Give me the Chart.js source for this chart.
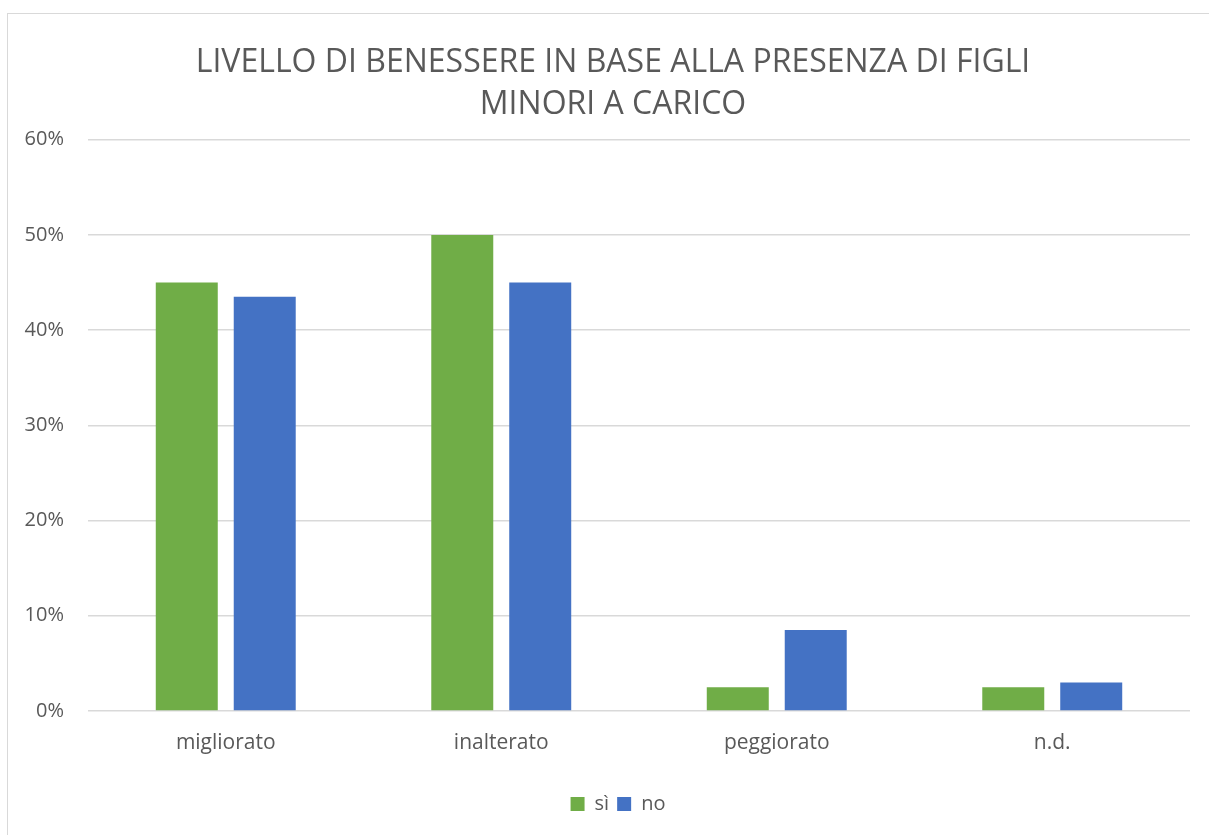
<!DOCTYPE html>
<html>
<head>
<meta charset="utf-8">
<script src="https://cdn.jsdelivr.net/npm/chart.js@4/dist/chart.umd.min.js"></script>
<style>
html,body{margin:0;padding:0;background:#fff;width:1209px;height:835px;overflow:hidden;}
#frame{position:absolute;left:7px;top:13px;width:1300px;height:900px;border:1.5px solid #d9d9d9;box-sizing:border-box;}
#wrap{position:absolute;left:0;top:0;width:1209px;height:835px;}
</style>
</head>
<body>
<div id="frame"></div>
<div id="wrap"><canvas id="c" width="1209" height="835"></canvas></div>
<script>
const titleLines = ["LIVELLO DI BENESSERE IN BASE ALLA PRESENZA DI FIGLI", "MINORI A CARICO"];
const categories = ["migliorato", "inalterato", "peggiorato", "n.d."];
const seriesNames = ["sì", "no"];
const siValues = [45, 50, 2.5, 2.5];
const noValues = [43.5, 45, 8.5, 3];
const yTicks = [0, 10, 20, 30, 40, 50, 60];

const txt = '#595959';
const fam = '"Open Sans", "Liberation Sans", sans-serif';

const boxShift = {
  id: 'boxShift',
  beforeDraw(chart) {
    if (chart.legend) {
      const w = chart.legend.right - chart.legend.left;
      chart.legend.left = 23;
      chart.legend.right = 23 + w;
    }
    if (chart.titleBlock) {
      const w = chart.titleBlock.right - chart.titleBlock.left;
      chart.titleBlock.left = 18;
      chart.titleBlock.right = 18 + w;
    }
  }
};

new Chart(document.getElementById('c'), {
  type: 'bar',
  data: {
    labels: categories,
    datasets: [
      { label: seriesNames[0], data: siValues, backgroundColor: '#70ad47', categoryPercentage: 0.566, barPercentage: 0.795 },
      { label: seriesNames[1], data: noValues, backgroundColor: '#4472c4', categoryPercentage: 0.566, barPercentage: 0.795 }
    ]
  },
  plugins: [boxShift],
  options: {
    responsive: false,
    animation: false,
    devicePixelRatio: 1,
    layout: { padding: { left: 0, right: 19, top: 0, bottom: 11 } },
    plugins: {
      title: {
        display: true,
        text: titleLines,
        color: txt,
        font: { family: fam, size: 32, weight: 'normal', lineHeight: 1.34 },
        padding: { top: 41, bottom: 13 }
      },
      legend: {
        position: 'bottom',
        labels: {
          color: txt,
          font: { family: fam, size: 20 },
          boxWidth: 14, boxHeight: 14, padding: 8
        }
      },
      tooltip: { enabled: false }
    },
    scales: {
      x: {
        grid: { display: false, drawTicks: false },
        border: { display: false },
        ticks: { color: txt, font: { family: fam, size: 21 }, padding: 19 },
        afterFit: s => { s.height = 75; }
      },
      y: {
        min: 0, max: 60,
        afterBuildTicks: s => { s.ticks = yTicks.map(v => ({ value: v })); },
        grid: { color: '#d9d9d9', lineWidth: 1.5, drawTicks: false },
        border: { display: false },
        ticks: { color: txt, font: { family: fam, size: 20 }, padding: 24, callback: v => v + '%' },
        afterFit: s => { s.width = 88; }
      }
    }
  }
});
</script>
</body>
</html>
